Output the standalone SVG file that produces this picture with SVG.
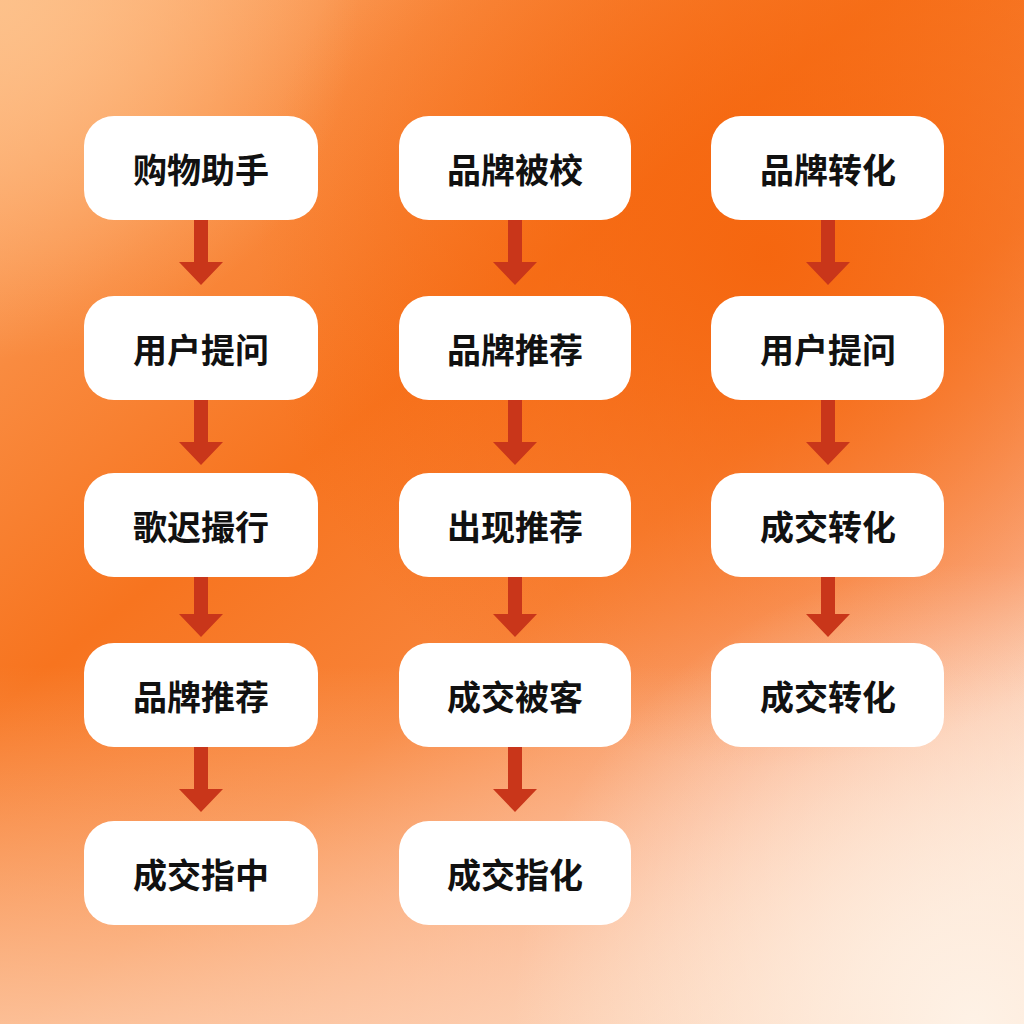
<svg xmlns="http://www.w3.org/2000/svg" width="1024" height="1024" viewBox="0 0 1024 1024">
<defs>
<linearGradient id="bg" x1="0" y1="0" x2="0.8" y2="1">
<stop offset="0" stop-color="#fdb57c"/>
<stop offset="0.22" stop-color="#f98b40"/>
<stop offset="0.42" stop-color="#f7741f"/>
<stop offset="0.62" stop-color="#f8843a"/>
<stop offset="0.82" stop-color="#fbb08a"/>
<stop offset="1" stop-color="#fde6d6"/>
</linearGradient>
<linearGradient id="bot" x1="0" y1="0" x2="0" y2="1">
<stop offset="0.65" stop-color="#fdd2b4" stop-opacity="0"/>
<stop offset="1" stop-color="#fdd2b4" stop-opacity="0.75"/>
</linearGradient>
<radialGradient id="br" cx="0.95" cy="1" r="0.45">
<stop offset="0" stop-color="#fef3e8" stop-opacity="0.95"/>
<stop offset="1" stop-color="#fef3e8" stop-opacity="0"/>
</radialGradient>
<radialGradient id="tr" cx="0.75" cy="0.25" r="0.5">
<stop offset="0" stop-color="#f5640c" stop-opacity="0.9"/>
<stop offset="1" stop-color="#f5640c" stop-opacity="0"/>
</radialGradient>
<radialGradient id="tl" cx="0" cy="0" r="0.35">
<stop offset="0" stop-color="#fdc28c" stop-opacity="0.9"/>
<stop offset="1" stop-color="#fdc28c" stop-opacity="0"/>
</radialGradient>
</defs>
<style>
.box{fill:#ffffff;}
.lbl{font-family:"Noto Sans CJK SC","Noto Sans",sans-serif;font-size:34px;font-weight:700;fill:#111111;text-anchor:middle;dominant-baseline:central;}
.shaft{fill:#c9361a;}
</style>
<rect width="1024" height="1024" fill="url(#bg)"/>
<rect width="1024" height="1024" fill="url(#tr)"/>
<rect width="1024" height="1024" fill="url(#tl)"/>
<rect width="1024" height="1024" fill="url(#bot)"/>
<rect width="1024" height="1024" fill="url(#br)"/>

<g id="connectors">
<path class="shaft" d="M194,220 h14 v42 h15 l-22,23 l-22,-23 h15 z"/>
<path class="shaft" d="M194,400 h14 v42 h15 l-22,23 l-22,-23 h15 z"/>
<path class="shaft" d="M194,577 h14 v37 h15 l-22,23 l-22,-23 h15 z"/>
<path class="shaft" d="M194,747 h14 v42 h15 l-22,23 l-22,-23 h15 z"/>
<path class="shaft" d="M508,220 h14 v42 h15 l-22,23 l-22,-23 h15 z"/>
<path class="shaft" d="M508,400 h14 v42 h15 l-22,23 l-22,-23 h15 z"/>
<path class="shaft" d="M508,577 h14 v37 h15 l-22,23 l-22,-23 h15 z"/>
<path class="shaft" d="M508,747 h14 v42 h15 l-22,23 l-22,-23 h15 z"/>
<path class="shaft" d="M821,220 h14 v42 h15 l-22,23 l-22,-23 h15 z"/>
<path class="shaft" d="M821,400 h14 v42 h15 l-22,23 l-22,-23 h15 z"/>
<path class="shaft" d="M821,577 h14 v37 h15 l-22,23 l-22,-23 h15 z"/>
</g>

<g id="n1"><rect class="box" x="84" y="116" width="234" height="104" rx="30"/><text class="lbl" x="201" y="168">购物助手</text></g>
<g id="n2"><rect class="box" x="84" y="296" width="234" height="104" rx="30"/><text class="lbl" x="201" y="348">用户提问</text></g>
<g id="n3"><rect class="box" x="84" y="473" width="234" height="104" rx="30"/><text class="lbl" x="201" y="525">歌迟撮行</text></g>
<g id="n4"><rect class="box" x="84" y="643" width="234" height="104" rx="30"/><text class="lbl" x="201" y="695">品牌推荐</text></g>
<g id="n5"><rect class="box" x="84" y="821" width="234" height="104" rx="30"/><text class="lbl" x="201" y="873">成交指中</text></g>

<g id="n6"><rect class="box" x="399" y="116" width="232" height="104" rx="30"/><text class="lbl" x="515" y="168">品牌被校</text></g>
<g id="n7"><rect class="box" x="399" y="296" width="232" height="104" rx="30"/><text class="lbl" x="515" y="348">品牌推荐</text></g>
<g id="n8"><rect class="box" x="399" y="473" width="232" height="104" rx="30"/><text class="lbl" x="515" y="525">出现推荐</text></g>
<g id="n9"><rect class="box" x="399" y="643" width="232" height="104" rx="30"/><text class="lbl" x="515" y="695">成交被客</text></g>
<g id="n10"><rect class="box" x="399" y="821" width="232" height="104" rx="30"/><text class="lbl" x="515" y="873">成交指化</text></g>

<g id="n11"><rect class="box" x="711" y="116" width="233" height="104" rx="30"/><text class="lbl" x="828" y="168">品牌转化</text></g>
<g id="n12"><rect class="box" x="711" y="296" width="233" height="104" rx="30"/><text class="lbl" x="828" y="348">用户提问</text></g>
<g id="n13"><rect class="box" x="711" y="473" width="233" height="104" rx="30"/><text class="lbl" x="828" y="525">成交转化</text></g>
<g id="n14"><rect class="box" x="711" y="643" width="233" height="104" rx="30"/><text class="lbl" x="828" y="695">成交转化</text></g>
</svg>
